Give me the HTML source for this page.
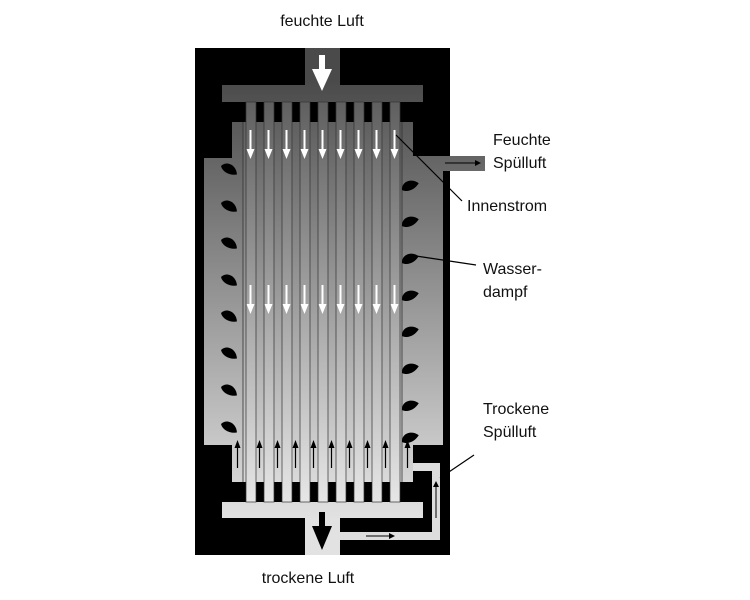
<!DOCTYPE html>
<html><head><meta charset="utf-8"><style>
body{margin:0;background:#fff}
svg{display:block}
text{font-family:"Liberation Sans",Arial,sans-serif;font-size:16px;fill:#111}
</style></head><body>
<svg width="750" height="600" viewBox="0 0 750 600" xmlns="http://www.w3.org/2000/svg">
<defs>
<linearGradient id="g" gradientUnits="userSpaceOnUse" x1="0" y1="80" x2="0" y2="520">
<stop offset="0" stop-color="#4a4a4a"/><stop offset="1" stop-color="#e2e2e2"/></linearGradient>
<linearGradient id="g2" gradientUnits="userSpaceOnUse" x1="0" y1="80" x2="0" y2="520">
<stop offset="0" stop-color="#585858"/><stop offset="1" stop-color="#ececec"/></linearGradient>
<marker id="ba" markerWidth="6" markerHeight="6" refX="3" refY="3" orient="auto"><path d="M0,0 L6,3 L0,6z" fill="#000"/></marker>
<g id="drop"><path d="M0,0 C3,-8 14,-7 18,1 C12,5 4,5 0,0z" fill="#000"/></g>
</defs>
<rect x="195" y="48" width="255" height="507" fill="#000"/>
<rect x="305" y="48" width="35" height="45" fill="url(#g)"/>
<rect x="222" y="85" width="201" height="17" fill="url(#g)"/>
<rect x="232" y="122" width="181" height="360" fill="url(#g)"/>
<rect x="204" y="158" width="239" height="287" fill="url(#g)"/>
<rect x="413" y="156" width="72" height="15" fill="url(#g)"/>
<line x1="445" y1="163" x2="478" y2="163" stroke="#000" stroke-width="1" marker-end="url(#ba)"/>
<rect x="222" y="502" width="201" height="16" fill="url(#g)"/>
<rect x="305" y="510" width="35" height="45" fill="url(#g)"/>
<rect x="340" y="532" width="100" height="8" fill="#ddd"/>
<rect x="432" y="463" width="8" height="77" fill="#ddd"/>
<rect x="413" y="463" width="27" height="8" fill="#ddd"/>
<line x1="366" y1="536" x2="392" y2="536" stroke="#000" marker-end="url(#ba)"/>
<line x1="436" y1="518" x2="436" y2="484" stroke="#000" marker-end="url(#ba)"/>
<rect x="243" y="122" width="158" height="360" fill="url(#g2)" opacity="0.5"/>
<g fill="url(#g2)" stroke="#333" stroke-width="0.7">
<rect x="246" y="102" width="10" height="400"/>
<rect x="264" y="102" width="10" height="400"/>
<rect x="282" y="102" width="10" height="400"/>
<rect x="300" y="102" width="10" height="400"/>
<rect x="318" y="102" width="10" height="400"/>
<rect x="336" y="102" width="10" height="400"/>
<rect x="354" y="102" width="10" height="400"/>
<rect x="372" y="102" width="10" height="400"/>
<rect x="390" y="102" width="10" height="400"/>
</g>
<g fill="#000">
<rect x="256.5" y="102" width="7" height="20"/><rect x="274.5" y="102" width="7" height="20"/><rect x="292.5" y="102" width="7" height="20"/><rect x="310.5" y="102" width="7" height="20"/><rect x="328.5" y="102" width="7" height="20"/><rect x="346.5" y="102" width="7" height="20"/><rect x="364.5" y="102" width="7" height="20"/><rect x="382.5" y="102" width="7" height="20"/>
<rect x="256.5" y="482" width="7" height="20"/><rect x="274.5" y="482" width="7" height="20"/><rect x="292.5" y="482" width="7" height="20"/><rect x="310.5" y="482" width="7" height="20"/><rect x="328.5" y="482" width="7" height="20"/><rect x="346.5" y="482" width="7" height="20"/><rect x="364.5" y="482" width="7" height="20"/><rect x="382.5" y="482" width="7" height="20"/>
<rect x="232" y="482" width="13.5" height="20"/><rect x="400.5" y="482" width="12.5" height="20"/>
<rect x="232" y="102" width="13.5" height="20"/><rect x="400.5" y="102" width="12.5" height="20"/>
</g>
<line x1="243" y1="122" x2="243" y2="482" stroke="#333" stroke-width="0.8"/>
<line x1="402" y1="122" x2="402" y2="482" stroke="#333" stroke-width="0.8"/>
<path d="M319,55 h6 v14 h7 l-10,22 l-10,-22 h7z" fill="#fff"/>
<path d="M319,512 h6 v14 h7 l-10,24 l-10,-24 h7z" fill="#000"/>
<g fill="#fff">
<g transform="translate(250.5,0)"><rect x="-1" y="130" width="2" height="20"/><path d="M-4,149 L4,149 L0,159z"/><rect x="-1" y="285" width="2" height="20"/><path d="M-4,304 L4,304 L0,314z"/></g>
<g transform="translate(268.5,0)"><rect x="-1" y="130" width="2" height="20"/><path d="M-4,149 L4,149 L0,159z"/><rect x="-1" y="285" width="2" height="20"/><path d="M-4,304 L4,304 L0,314z"/></g>
<g transform="translate(286.5,0)"><rect x="-1" y="130" width="2" height="20"/><path d="M-4,149 L4,149 L0,159z"/><rect x="-1" y="285" width="2" height="20"/><path d="M-4,304 L4,304 L0,314z"/></g>
<g transform="translate(304.5,0)"><rect x="-1" y="130" width="2" height="20"/><path d="M-4,149 L4,149 L0,159z"/><rect x="-1" y="285" width="2" height="20"/><path d="M-4,304 L4,304 L0,314z"/></g>
<g transform="translate(322.5,0)"><rect x="-1" y="130" width="2" height="20"/><path d="M-4,149 L4,149 L0,159z"/><rect x="-1" y="285" width="2" height="20"/><path d="M-4,304 L4,304 L0,314z"/></g>
<g transform="translate(340.5,0)"><rect x="-1" y="130" width="2" height="20"/><path d="M-4,149 L4,149 L0,159z"/><rect x="-1" y="285" width="2" height="20"/><path d="M-4,304 L4,304 L0,314z"/></g>
<g transform="translate(358.5,0)"><rect x="-1" y="130" width="2" height="20"/><path d="M-4,149 L4,149 L0,159z"/><rect x="-1" y="285" width="2" height="20"/><path d="M-4,304 L4,304 L0,314z"/></g>
<g transform="translate(376.5,0)"><rect x="-1" y="130" width="2" height="20"/><path d="M-4,149 L4,149 L0,159z"/><rect x="-1" y="285" width="2" height="20"/><path d="M-4,304 L4,304 L0,314z"/></g>
<g transform="translate(394.5,0)"><rect x="-1" y="130" width="2" height="20"/><path d="M-4,149 L4,149 L0,159z"/><rect x="-1" y="285" width="2" height="20"/><path d="M-4,304 L4,304 L0,314z"/></g>
</g>
<g fill="#000">
<g transform="translate(237.5,0)"><rect x="-0.6" y="446" width="1.2" height="22"/><path d="M-3,448 L3,448 L0,440z"/></g>
<g transform="translate(259.5,0)"><rect x="-0.6" y="446" width="1.2" height="22"/><path d="M-3,448 L3,448 L0,440z"/></g>
<g transform="translate(277.5,0)"><rect x="-0.6" y="446" width="1.2" height="22"/><path d="M-3,448 L3,448 L0,440z"/></g>
<g transform="translate(295.5,0)"><rect x="-0.6" y="446" width="1.2" height="22"/><path d="M-3,448 L3,448 L0,440z"/></g>
<g transform="translate(313.5,0)"><rect x="-0.6" y="446" width="1.2" height="22"/><path d="M-3,448 L3,448 L0,440z"/></g>
<g transform="translate(331.5,0)"><rect x="-0.6" y="446" width="1.2" height="22"/><path d="M-3,448 L3,448 L0,440z"/></g>
<g transform="translate(349.5,0)"><rect x="-0.6" y="446" width="1.2" height="22"/><path d="M-3,448 L3,448 L0,440z"/></g>
<g transform="translate(367.5,0)"><rect x="-0.6" y="446" width="1.2" height="22"/><path d="M-3,448 L3,448 L0,440z"/></g>
<g transform="translate(385.5,0)"><rect x="-0.6" y="446" width="1.2" height="22"/><path d="M-3,448 L3,448 L0,440z"/></g>
<g transform="translate(407.5,0)"><rect x="-0.6" y="446" width="1.2" height="22"/><path d="M-3,448 L3,448 L0,440z"/></g>
</g>
<g>
<use href="#drop" transform="translate(221,166) rotate(25)"/>
<use href="#drop" transform="translate(221,203) rotate(25)"/>
<use href="#drop" transform="translate(221,240) rotate(25)"/>
<use href="#drop" transform="translate(221,277) rotate(25)"/>
<use href="#drop" transform="translate(221,313) rotate(25)"/>
<use href="#drop" transform="translate(221,350) rotate(25)"/>
<use href="#drop" transform="translate(221,387) rotate(25)"/>
<use href="#drop" transform="translate(221,424) rotate(25)"/>
<use href="#drop" transform="translate(402,190) rotate(-25)"/>
<use href="#drop" transform="translate(402,226) rotate(-25)"/>
<use href="#drop" transform="translate(402,263) rotate(-25)"/>
<use href="#drop" transform="translate(402,300) rotate(-25)"/>
<use href="#drop" transform="translate(402,336) rotate(-25)"/>
<use href="#drop" transform="translate(402,373) rotate(-25)"/>
<use href="#drop" transform="translate(402,410) rotate(-25)"/>
<use href="#drop" transform="translate(402,442) rotate(-25)"/>
</g>
<g stroke="#000" stroke-width="1.2" fill="none">
<line x1="396" y1="135" x2="462" y2="201"/>
<line x1="416" y1="256" x2="476" y2="265"/>
<line x1="440" y1="478" x2="474" y2="455"/>
</g>
<text x="322" y="26" text-anchor="middle">feuchte Luft</text>
<text x="308" y="583" text-anchor="middle">trockene Luft</text>
<text x="493" y="145">Feuchte</text>
<text x="493" y="168">Spülluft</text>
<text x="467" y="211">Innenstrom</text>
<text x="483" y="274">Wasser-</text>
<text x="483" y="297">dampf</text>
<text x="483" y="414">Trockene</text>
<text x="483" y="437">Spülluft</text>
</svg>
</body></html>
